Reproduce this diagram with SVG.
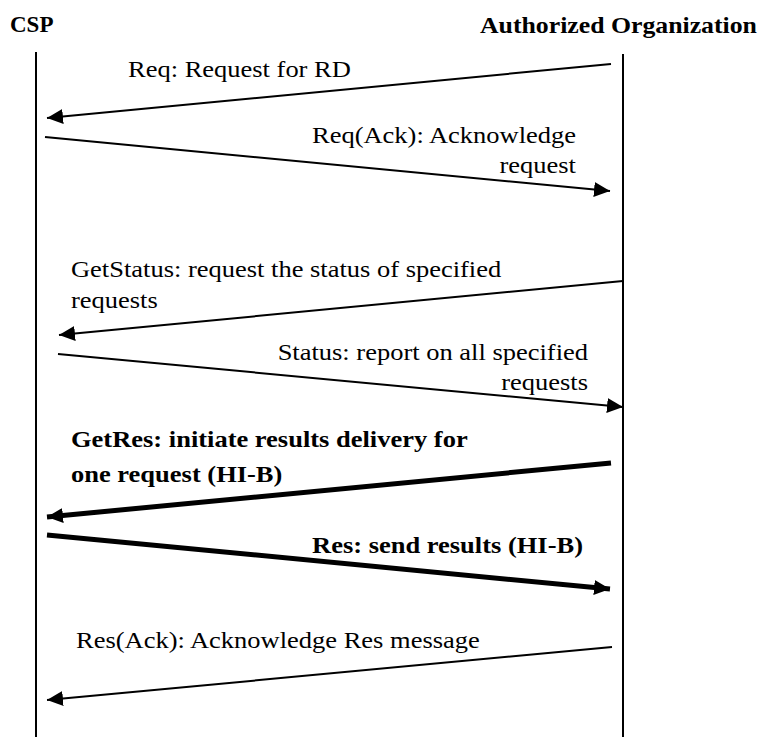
<svg xmlns="http://www.w3.org/2000/svg" width="767" height="737" viewBox="0 0 767 737">
<style>
.b{font-weight:bold}
.life{stroke:#000;stroke-width:2;fill:none}
.thin{stroke:#000;stroke-width:2;fill:none}
.thick{stroke:#000;stroke-width:5;fill:none}
</style>
<defs>
<marker id="ah" markerUnits="userSpaceOnUse" markerWidth="17" markerHeight="15" refX="16" refY="7.5" orient="auto">
<path d="M0,0 L16,7.5 L0,15 Z" fill="#000"/>
</marker>
</defs>
<rect width="767" height="737" fill="#fff"/>
<g id="csp" font-family="Liberation Serif, serif" fill="#000">
<text class="b" x="10" y="32" font-size="23">CSP</text>
<line class="life" x1="36" y1="52" x2="36" y2="737"/>
</g>
<g id="org" font-family="Liberation Serif, serif" fill="#000">
<text class="b" transform="translate(480 33) scale(1.074 1)" x="0" y="0" font-size="24">Authorized Organization</text>
<line class="life" x1="623" y1="54" x2="623" y2="737"/>
</g>
<g id="connectors">
<line class="thin" x1="611" y1="64" x2="47" y2="118" marker-end="url(#ah)"/>
<line class="thin" x1="45" y1="137" x2="610" y2="191" marker-end="url(#ah)"/>
<line class="thin" x1="623" y1="281" x2="59" y2="335" marker-end="url(#ah)"/>
<line class="thin" x1="58" y1="354" x2="623" y2="407" marker-end="url(#ah)"/>
<line class="thick" x1="611" y1="463" x2="47" y2="517" marker-end="url(#ah)"/>
<line class="thick" x1="47" y1="535" x2="610" y2="589" marker-end="url(#ah)"/>
<line class="thin" x1="612" y1="647" x2="47" y2="700" marker-end="url(#ah)"/>
</g>
<g id="labels" font-family="Liberation Serif, serif" font-size="24" fill="#000" transform="scale(1.104 1)">
<text x="115.94" y="77">Req: Request for RD</text>
<text x="521.74" y="143" text-anchor="end">Req(Ack): Acknowledge</text>
<text x="521.74" y="173" text-anchor="end">request</text>
<text x="64.31" y="277">GetStatus: request the status of specified</text>
<text x="64.31" y="308">requests</text>
<text x="532.61" y="360" text-anchor="end">Status: report on all specified</text>
<text x="532.61" y="390" text-anchor="end">requests</text>
<text class="b" x="64.31" y="447">GetRes: initiate results delivery for</text>
<text class="b" x="64.31" y="482">one request (HI-B)</text>
<text class="b" x="528.08" y="553" text-anchor="end">Res: send results (HI-B)</text>
<text x="68.84" y="648">Res(Ack): Acknowledge Res message</text>
</g>
</svg>
